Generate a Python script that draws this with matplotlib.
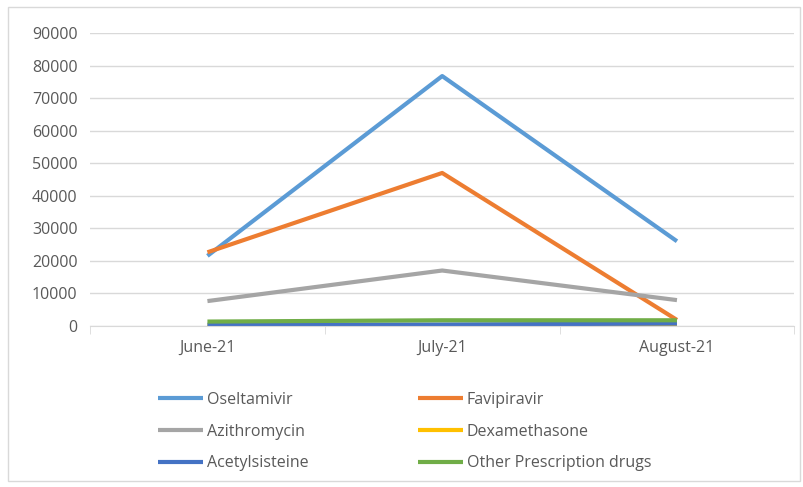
import matplotlib
matplotlib.use("Agg")
import matplotlib.pyplot as plt
from matplotlib.patches import Rectangle

plt.rcParams['font.family'] = ['Open Sans', 'DejaVu Sans']

months = ['June-21', 'July-21', 'August-21']
oseltamivir = [21500, 76800, 26000]
favipiravir = [22600, 47000, 1800]
azithromycin = [7600, 17000, 7900]
dexamethasone = [100, 150, 150]
acetylsisteine = [300, 400, 700]
other_drugs = [1300, 1700, 1700]

series = [
    ('Oseltamivir', oseltamivir, '#5b9bd5'),
    ('Favipiravir', favipiravir, '#ed7d31'),
    ('Azithromycin', azithromycin, '#a5a5a5'),
    ('Dexamethasone', dexamethasone, '#ffc000'),
    ('Acetylsisteine', acetylsisteine, '#4472c4'),
    ('Other Prescription drugs', other_drugs, '#70ad47'),
]

fig = plt.figure(figsize=(8.04, 4.87), dpi=100)
ax = fig.add_axes([0.112, 0.331, 0.876, 0.601])

x = range(len(months))
lines = []
for name, vals, col in series:
    ln, = ax.plot(x, vals, color=col, lw=3, label=name, solid_capstyle='butt')
    lines.append(ln)

ax.set_xlim(-0.5, 2.5)
ax.set_ylim(0, 90000)
ax.set_yticks(range(0, 90001, 10000))
ax.set_xticks(list(x))
ax.set_xticklabels(months)
ax.set_xticks([-0.5, 0.5, 1.5, 2.5], minor=True)
ax.grid(axis='y', color='#d9d9d9', lw=1)
ax.set_axisbelow(True)
for s in ['top', 'right', 'left']:
    ax.spines[s].set_visible(False)
ax.spines['bottom'].set_color('#d9d9d9')
ax.tick_params(axis='y', length=0, pad=9, labelsize=11.5, labelcolor='#595959')
ax.tick_params(axis='x', which='major', length=0, pad=10, labelsize=11.5, labelcolor='#595959')
ax.tick_params(axis='x', which='minor', length=6, color='#d9d9d9')

# two legend columns, filled row by row like the original
leg_kw = dict(loc='upper left', frameon=False, fontsize=11.5, handlelength=2.8,
              handletextpad=0.25, labelspacing=0.98, labelcolor='#595959',
              borderpad=0, borderaxespad=0)
leg1 = fig.legend(handles=lines[0::2], bbox_to_anchor=(0.1965, 0.195), **leg_kw)
leg2 = fig.legend(handles=lines[1::2], bbox_to_anchor=(0.52, 0.195), **leg_kw)

fig.patches.append(Rectangle((0.01, 0.012), 0.985, 0.974, transform=fig.transFigure,
                             fill=False, edgecolor='#d9d9d9', lw=1))

fig.savefig('out.png', dpi=100)
